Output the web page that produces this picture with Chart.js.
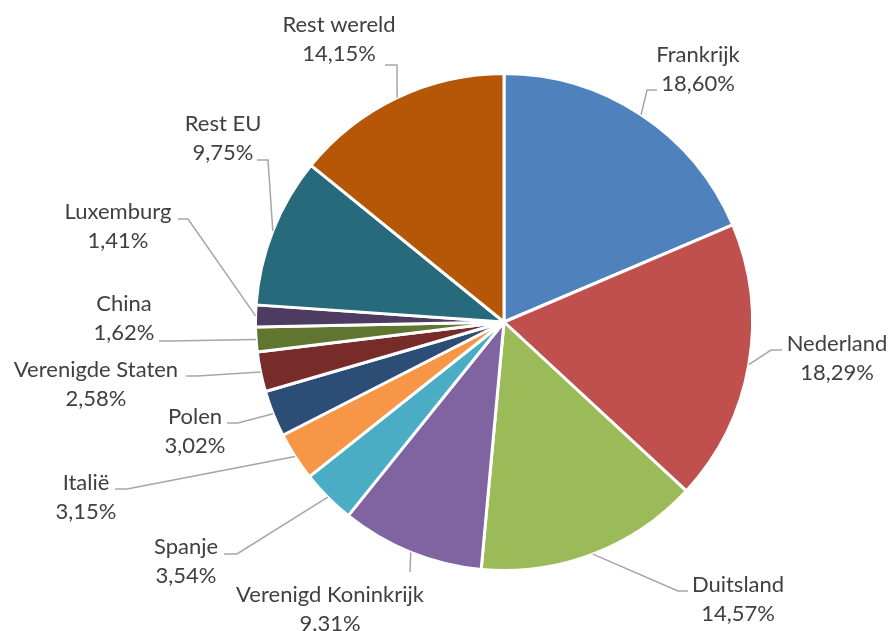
<!DOCTYPE html>
<html>
<head>
<meta charset="utf-8">
<script src="https://cdn.jsdelivr.net/npm/chart.js@4.4.1/dist/chart.umd.min.js"></script>
<style>
  html, body { margin: 0; padding: 0; background: #fff; }
  #wrap { width: 888px; height: 631px; }
</style>
</head>
<body>
<div id="wrap"><canvas id="pieChart"></canvas></div>
<script>
const landen = ['Frankrijk', 'Nederland', 'Duitsland', 'Verenigd Koninkrijk', 'Spanje', 'Italië',
    'Polen', 'Verenigde Staten', 'China', 'Luxemburg', 'Rest EU', 'Rest wereld'];
const aandeel = [18.60, 18.29, 14.57, 9.31, 3.54, 3.15, 3.02, 2.58, 1.62, 1.41, 9.75, 14.15];
const aandeelTekst = ['18,60%', '18,29%', '14,57%', '9.31%', '3,54%', '3,15%',
    '3,02%', '2,58%', '1,62%', '1,41%', '9,75%', '14,15%'];
const kleuren = ['#4F81BD', '#C0504D', '#9BBB59', '#8064A2', '#4BACC6', '#F79646',
    '#2C4D75', '#772C2A', '#5F7530', '#4D3B62', '#276A7C', '#B65708'];

// label placement: text centre x, baseline of first line, leader line bends
const plaatsing = [
    { x: 698, y: 62, lijn: [[647, 90], [657, 90]] },
    { x: 837, y: 351, lijn: [[771, 350], [782, 350]] },
    { x: 738, y: 592, lijn: [[678, 591], [688, 591]] },
    { x: 330, y: 602, lijn: [[410, 572]] },
    { x: 186, y: 554, lijn: [[237, 554], [224, 554]] },
    { x: 86, y: 490, lijn: [[127, 489], [115, 489]] },
    { x: 195, y: 424, lijn: [[238, 423], [227, 423]] },
    { x: 96, y: 377, lijn: [[197, 376], [186, 376]] },
    { x: 124, y: 311, lijn: [[170, 341], [159, 341]] },
    { x: 118, y: 219, lijn: [[188, 219], [178, 219]] },
    { x: 223, y: 131, lijn: [[268, 160], [257, 160]] },
    { x: 339, y: 32, lijn: [[397, 65], [385, 65]] }
];

const labelPlugin = {
    id: 'labelPlugin',
    afterDatasetsDraw(chart) {
        const ctx = chart.ctx;
        const meta = chart.getDatasetMeta(0);
        ctx.save();
        meta.data.forEach((arc, i) => {
            const p = plaatsing[i];
            const mid = (arc.startAngle + arc.endAngle) / 2;
            const sx = arc.x + Math.cos(mid) * arc.outerRadius;
            const sy = arc.y + Math.sin(mid) * arc.outerRadius;
            ctx.strokeStyle = '#A6A6A6';
            ctx.lineWidth = 1.5;
            ctx.beginPath();
            ctx.moveTo(sx, sy);
            p.lijn.forEach(pt => ctx.lineTo(pt[0], pt[1]));
            ctx.stroke();

            ctx.fillStyle = '#404040';
            ctx.font = '22px Lato';
            ctx.textAlign = 'center';
            ctx.textBaseline = 'alphabetic';
            ctx.fillText(landen[i], p.x, p.y);
            ctx.fillText(aandeelTekst[i], p.x, p.y + 29);
        });
        ctx.restore();
    }
};

new Chart(document.getElementById('pieChart'), {
    type: 'pie',
    data: {
        labels: landen,
        datasets: [{
            data: aandeel,
            backgroundColor: kleuren,
            borderColor: '#ffffff',
            borderWidth: 3
        }]
    },
    options: {
        responsive: true,
        maintainAspectRatio: false,
        animation: false,
        events: [],
        layout: { padding: { top: 71, bottom: 58, left: 254, right: 134 } },
        plugins: {
            legend: { display: false },
            tooltip: { enabled: false }
        }
    },
    plugins: [labelPlugin]
});
</script>
</body>
</html>
